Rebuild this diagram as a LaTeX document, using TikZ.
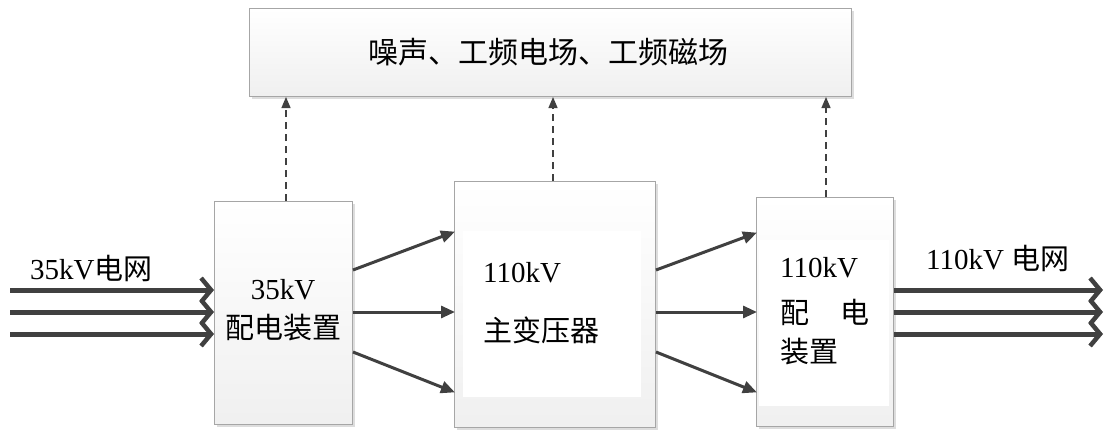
\documentclass[tikz,border=0pt]{standalone}
\usepackage{fontspec}
\setmainfont{Liberation Serif}
\newfontfamily\cjk{Noto Sans CJK SC}
\usetikzlibrary{arrows.meta,shadows}
\definecolor{ln}{HTML}{404040}
\definecolor{bd}{HTML}{A6A6A6}
\tikzset{
  boxs/.style={draw=bd, line width=1pt, top color=white, bottom color=gray!12, drop shadow={shadow xshift=2pt, shadow yshift=-2pt, fill=gray!45, opacity=0.6}},
  inner/.style={fill=white, draw=none},
  dasharrow/.style={draw=ln, line width=1.3pt, dash pattern=on 7pt off 5pt, -{Triangle[length=11pt,width=9pt]}},
  flow/.style={draw=ln, line width=3pt, -{Triangle[length=14pt,width=12pt]}, shorten >=-1pt},
  bus/.style={draw=ln, line width=5pt, -{Straight Barb[length=10pt,width=24pt,line width=4.5pt]}},
  lbl/.style={font=\fontsize{29}{33}\selectfont, text=black, inner sep=0pt}
}
\newcommand{\zh}[1]{{\cjk #1}}
\begin{document}
\begin{tikzpicture}[x=1pt,y=-1pt]
\useasboundingbox (0,0) rectangle (1108,431);
% top box
\node[boxs, minimum width=602pt, minimum height=88pt, anchor=north west] (top) at (249,8) {};
\node[lbl, font=\fontsize{30}{34}\selectfont] (toptxt) at (548,52) {\zh{噪声、工频电场、工频磁场}};
% box 1
\node[boxs, minimum width=138pt, minimum height=223pt, anchor=north west] (b1) at (214,201) {};
\node[lbl] (b1a) at (283,290) {35kV};
\node[lbl] (b1b) at (283,328) {\zh{配电装置}};
% box 2
\node[boxs, minimum width=201pt, minimum height=246pt, anchor=north west] (b2) at (454,181) {};
\node[inner, minimum width=178pt, minimum height=166pt, anchor=north west] (b2i) at (463,231) {};
\node[lbl, anchor=west] (b2a) at (483,273) {110kV};
\node[lbl, anchor=west] (b2b) at (483,330) {\zh{主变压器}};
% box 3
\node[boxs, minimum width=137pt, minimum height=229pt, anchor=north west] (b3) at (756,197) {};
\node[inner, minimum width=130pt, minimum height=166pt, anchor=north west] (b3i) at (759,240) {};
\node[lbl, anchor=west] (b3a) at (780,268) {110kV};
\node[lbl, anchor=west] (b3b) at (780,312) {\zh{配\hspace{31pt}电}};
\node[lbl, anchor=west] (b3c) at (780,352) {\zh{装置}};
% coordinates for free ends
\coordinate (in1) at (10,290);
\coordinate (in2) at (10,312);
\coordinate (in3) at (10,334);
\coordinate (out1) at (1103,290);
\coordinate (out2) at (1103,312);
\coordinate (out3) at (1103,334);
% dashed arrows
\draw[dasharrow] (b1.north -| 286,0) -- (top.south -| 286,0);
\draw[dasharrow] (b2.north -| 553,0) -- (top.south -| 553,0);
\draw[dasharrow] (b3.north -| 826,0) -- (top.south -| 826,0);
% flows b1 -> b2
\draw[flow] (b1.east |- 0,270) -- (b2.west |- 0,232);
\draw[flow] (b1.east |- 0,312) -- (b2.west |- 0,312);
\draw[flow] (b1.east |- 0,352) -- (b2.west |- 0,392);
% flows b2 -> b3
\draw[flow] (b2.east |- 0,270) -- (b3.west |- 0,233);
\draw[flow] (b2.east |- 0,312) -- (b3.west |- 0,312);
\draw[flow] (b2.east |- 0,352) -- (b3.west |- 0,392);
% buses
\draw[bus] (in1) -- (b1.west |- in1);
\draw[bus] (in2) -- (b1.west |- in2);
\draw[bus] (in3) -- (b1.west |- in3);
\draw[bus] (b3.east |- out1) -- (out1);
\draw[bus] (b3.east |- out2) -- (out2);
\draw[bus] (b3.east |- out3) -- (out3);
% labels
\node[lbl, anchor=west] (inl) at (30,268) {35kV\zh{电网}};
\node[lbl, anchor=west] (outl) at (926,258) {110kV \zh{电网}};
\end{tikzpicture}
\end{document}
